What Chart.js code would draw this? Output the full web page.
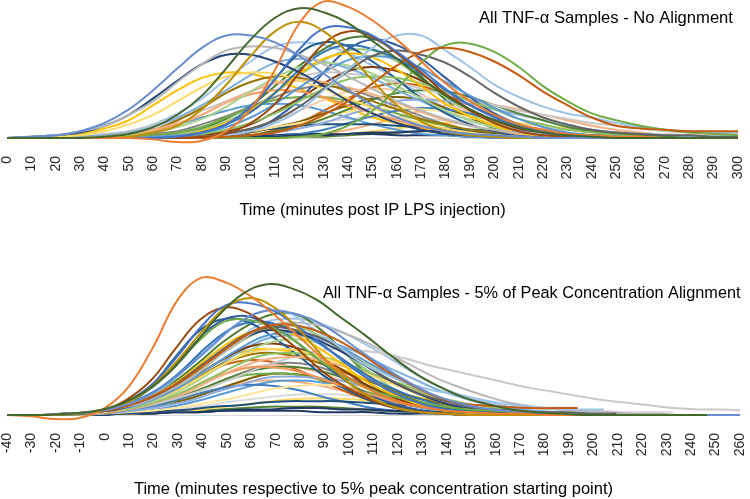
<!DOCTYPE html>
<html>
<head>
<meta charset="utf-8">
<script src="https://cdn.jsdelivr.net/npm/chart.js@4.4.1/dist/chart.umd.min.js"></script>
<style>
  html, body { margin: 0; padding: 0; background: #fff; }
  body { width: 750px; height: 499px; position: relative; overflow: hidden; }
  canvas { position: absolute; left: 0; }
  #topChart { top: 0; }
  #bottomChart { top: 250px; }
</style>
</head>
<body>
<canvas id="topChart" width="750" height="250"></canvas>
<canvas id="bottomChart" width="750" height="249"></canvas>
<script>
// sampling times (minutes post IP LPS injection)
const times = [0,10,20,30,40,50,60,70,80,90,100,110,120,130,140,150,160,170,180,190,200,210,220,230,240,250,260,270,280,290,300];

const topTicks = [0,10,20,30,40,50,60,70,80,90,100,110,120,130,140,150,160,170,180,190,200,210,220,230,240,250,260,270,280,290,300];
const bottomTicks = [-40,-30,-20,-10,0,10,20,30,40,50,60,70,80,90,100,110,120,130,140,150,160,170,180,190,200,210,220,230,240,250,260];

// one colour per sample (first ones are drawn on top)
const sampleColors = [
  "#43682B", "#ED7D31", "#698ED0", "#BF9000", "#4472C4", "#9E480E",
  "#C55A11", "#70AD47", "#9DC3E6", "#636363", "#B7B7B7", "#264478",
  "#2E75B6", "#5B9BD5", "#FFC000", "#FFD966", "#A9D18E", "#8CC168",
  "#F4B183", "#F1975A", "#335AA1", "#255E91", "#843C0C", "#997300",
  "#7CAFDD", "#C9C9C9", "#548235", "#8FAADC", "#FFE699", "#1F4E79",
  "#203864", "#3F7FBF", "#70AD47", "#F8CBAD", "#848484", "#7F6000",
  "#5B9BD5", "#9BC57D", "#D26012", "#FFC000", "#507E32", "#A6C4E8",
  "#D9D9D9", "#FFD966", "#1F3864", "#548235", "#F4B183"
];

// TNF-a concentration per sample (relative units), one value per entry of times
const samples = [
  [0,0,0,0,1,3,8,17,31,51,72,88,95,92,84,71,58,44,31,21,13,8,4,2,1,0,0,0,0,0,0],
  [0,0,0,0,0,0,-1,-3,-2,5,21,50,84,100,96,86,72,56,40,27,17,10,6,3,2,1,1,0,0,0,0],
  [0,1,2,5,11,21,35,51,66,75,75,70,60,47,35,24,15,9,5,3,2,1,0,0,0,0,0,0,0,0,0],
  [0,0,0,0,0,1,4,9,21,39,60,78,85,78,62,42,24,12,5,2,1,0,0,0,0,0,0,0,0,0,0],
  [0,0,0,0,0,0,0,1,4,10,23,43,65,80,81,75,63,50,36,24,15,8,4,2,1,0,0,0,0,0,0],
  [0,0,0,0,0,0,0,0,1,3,11,25,48,69,78,74,62,48,32,20,11,5,2,1,0,0,0,0,0,0,0],
  [0,0,0,0,0,0,0,0,0,1,2,4,9,17,27,40,53,63,66,63,56,46,34,24,15,9,7,6,5,5,5],
  [0,0,0,0,0,0,0,0,0,0,0,0,1,3,9,20,36,55,68,69,63,52,38,27,18,13,9,6,4,3,2],
  [0,0,0,0,0,0,0,0,1,2,5,11,20,35,50,66,75,75,64,52,39,30,23,18,15,11,8,6,5,4,4],
  [0,0,0,0,0,0,0,0,1,3,7,13,23,36,49,60,64,61,55,45,33,23,15,10,6,4,3,2,2,1,1],
  [0,1,2,5,9,17,27,41,54,64,67,66,61,54,45,36,27,20,14,9,6,4,3,2,1,1,0,0,0,0,0],
  [0,1,2,4,9,17,29,42,54,61,61,56,48,38,27,18,11,6,3,2,1,0,0,0,0,0,0,0,0,0,0],
  [0,0,0,0,0,0,0,1,4,10,19,33,50,63,68,65,58,47,35,24,16,10,5,3,2,1,0,0,0,0,0],
  [0,0,0,0,0,0,1,2,4,8,15,25,37,48,57,60,58,51,41,31,22,14,8,4,2,1,0,0,0,0,0],
  [0,0,0,0,0,0,1,2,5,11,20,33,47,58,62,59,50,38,25,16,9,4,2,1,0,0,0,0,0,0,0],
  [0,0,1,2,5,10,17,27,37,45,48,47,42,36,29,22,15,11,7,4,2,1,0,0,0,0,0,0,0,0,0],
  [0,0,0,0,1,2,4,8,14,23,34,44,52,55,53,47,38,29,20,13,8,4,2,1,0,0,0,0,0,0,0],
  [0,0,0,0,0,0,0,1,3,6,11,18,27,36,43,45,44,40,34,27,21,14,10,6,4,2,1,0,0,0,0],
  [0,0,0,0,1,3,6,11,17,26,34,40,42,41,37,32,26,19,13,9,6,3,2,1,0,0,0,0,0,0,0],
  [0,0,0,0,1,2,5,10,17,26,32,35,34,30,24,18,13,8,5,3,1,0,0,0,0,0,0,0,0,0,0],
  [0,0,0,0,0,0,0,0,1,2,5,14,28,48,65,72,68,58,44,30,18,10,5,2,1,0,0,0,0,0,0],
  [0,0,0,0,0,0,0,1,3,10,22,43,62,70,67,56,43,29,18,10,5,2,1,0,0,0,0,0,0,0,0],
  [0,0,0,0,0,0,0,1,2,5,10,19,29,40,49,52,49,42,32,21,13,7,4,2,1,0,0,0,0,0,0],
  [0,0,0,0,1,3,6,13,22,33,41,45,44,40,34,27,21,14,10,6,4,2,1,0,0,0,0,0,0,0,0],
  [0,0,0,1,2,4,8,15,24,35,46,55,58,56,51,44,35,27,19,13,8,5,3,2,1,0,0,0,0,0,0],
  [0,0,0,1,3,5,9,14,20,27,34,40,45,48,47,45,41,36,32,28,24,20,17,14,11,9,7,5,4,4,3],
  [0,0,0,0,0,0,0,0,0,1,2,5,9,14,21,28,33,35,34,30,24,18,13,8,5,3,2,1,0,0,0],
  [0,0,0,0,0,0,0,0,0,1,2,4,7,11,17,22,27,28,27,25,21,17,13,9,6,4,3,2,1,1,1],
  [0,0,0,0,0,0,0,1,2,3,5,8,11,15,19,21,22,21,19,15,11,8,5,3,2,1,0,0,0,0,0],
  [0,0,0,0,0,0,1,2,3,4,6,7,9,10,10,10,9,8,7,6,4,3,2,2,1,1,0,0,0,0,0],
  [0,0,0,0,0,0,0,0,0,0,1,1,2,2,3,4,4,5,5,4,4,3,3,2,2,1,1,1,1,0,0],
  [0,0,0,0,0,0,0,0,0,0,0,1,3,6,11,16,20,22,21,18,13,9,5,3,2,1,0,0,0,0,0],
  [0,0,0,0,0,1,2,4,8,15,22,28,30,30,27,23,18,13,9,5,3,2,1,0,0,0,0,0,0,0,0],
  [0,0,0,0,0,0,0,0,1,4,7,13,20,28,34,36,35,31,25,19,13,8,5,3,1,0,0,0,0,0,0],
  [0,0,0,0,0,1,3,5,10,16,23,30,36,38,36,30,23,16,10,5,3,1,0,0,0,0,0,0,0,0,0],
  [0,0,0,0,0,0,0,0,1,2,4,8,12,18,24,29,30,28,22,15,8,4,2,1,0,0,0,0,0,0,0],
  [0,0,0,1,2,3,6,10,15,20,24,25,24,20,15,10,6,3,2,1,0,0,0,0,0,0,0,0,0,0,0],
  [0,0,0,0,0,0,1,3,6,12,21,33,46,57,64,64,56,43,30,18,10,5,2,1,0,0,0,0,0,0,0],
  [0,0,0,0,0,0,0,0,0,1,2,6,11,20,29,37,40,38,32,24,16,10,6,3,1,0,0,0,0,0,0],
  [0,0,1,3,7,13,24,35,44,48,47,42,36,29,22,15,11,7,4,2,1,0,0,0,0,0,0,0,0,0,0],
  [0,0,0,0,0,0,1,3,7,14,24,38,53,65,73,73,62,45,28,15,7,3,1,0,0,0,0,0,0,0,0],
  [0,0,0,1,2,5,10,18,29,43,56,67,70,68,62,53,43,32,22,15,10,6,3,2,1,0,0,0,0,0,0],
  [0,0,0,0,0,0,0,1,2,3,5,7,10,12,14,15,15,14,13,11,10,8,7,6,5,4,3,3,2,2,2],
  [0,0,0,0,0,0,0,0,0,0,0,1,1,2,3,5,7,9,11,12,12,11,9,7,5,4,3,2,1,1,1],
  [0,0,0,0,0,0,0,0,1,1,2,2,3,3,3,3,2,2,2,1,1,1,1,0,0,0,0,0,0,0,0],
  [0,0,0,0,0,0,0,0,0,0,0,0,1,1,2,3,4,5,6,6,6,5,4,3,2,2,1,1,1,0,0],
  [0,0,0,0,0,0,0,0,0,0,0,0,1,3,6,10,15,20,24,25,24,21,17,13,9,6,4,2,1,1,1]
];

const FONT = "'Liberation Sans', Arial, sans-serif";
Chart.defaults.font.family = FONT;

// time at which a sample first reaches 5% of its own peak
function onsetTime(vals) {
  const level = Math.max(...vals) * 0.05;
  for (let i = 1; i < vals.length; i++) {
    if (vals[i] >= level) {
      const f = (level - vals[i - 1]) / (vals[i] - vals[i - 1]);
      return times[i - 1] + f * (times[i] - times[i - 1]);
    }
  }
  return 0;
}

function buildDatasets(aligned) {
  return samples.map((vals, k) => {
    const shift = aligned ? onsetTime(vals) : 0;
    return {
      data: vals.map((v, i) => ({ x: times[i] - shift, y: v })),
      borderColor: sampleColors[k],
      borderWidth: 2,
      pointRadius: 0,
      tension: 0.4,
      fill: false
    };
  });
}

// corner caption + zero line
const chartDecor = {
  id: "chartDecor",
  beforeDatasetsDraw(chart) {
    const { ctx, chartArea, scales } = chart;
    const y0 = scales.y.getPixelForValue(0);
    ctx.save();
    ctx.strokeStyle = "#D9D9D9";
    ctx.lineWidth = 1;
    ctx.beginPath();
    ctx.moveTo(chartArea.left, Math.round(y0) + 0.5);
    ctx.lineTo(chartArea.right, Math.round(y0) + 0.5);
    ctx.stroke();
    ctx.restore();
  },
  afterDraw(chart, args, opts) {
    const ctx = chart.ctx;
    ctx.save();
    ctx.font = opts.size + "px " + FONT;
    ctx.fillStyle = "#000";
    ctx.textAlign = "left";
    ctx.textBaseline = "alphabetic";
    ctx.fillText(opts.text, opts.x, opts.y);
    ctx.restore();
  }
};

function makeChart(id, aligned, xMin, xMax, ticks, axisTitle, caption, pad, titlePad) {
  return new Chart(document.getElementById(id), {
    type: "line",
    data: { datasets: buildDatasets(aligned) },
    plugins: [chartDecor],
    options: {
      responsive: false,
      animation: false,
      events: [],
      layout: { padding: pad },
      plugins: {
        legend: { display: false },
        tooltip: { enabled: false },
        chartDecor: caption
      },
      scales: {
        x: {
          type: "linear",
          min: xMin,
          max: xMax,
          grid: { display: false },
          border: { display: false },
          afterBuildTicks: (s) => { s.ticks = ticks.map((v) => ({ value: v })); },
          afterFit: (s) => { s.paddingLeft = 0; s.paddingRight = 0; },
          ticks: {
            autoSkip: false,
            maxRotation: 90,
            minRotation: 90,
            padding: 3,
            color: "#262626",
            font: { size: 14 }
          },
          title: {
            display: true,
            text: axisTitle,
            color: "#000",
            font: { size: 16.5 },
            padding: titlePad
          }
        },
        y: { display: false, min: -5, max: 101 }
      }
    }
  });
}

makeChart("topChart", false, 0, 300, topTicks,
  "Time (minutes post IP LPS injection)",
  { text: "All TNF-\u03B1 Samples - No Alignment", x: 479, y: 23, size: 16.6 },
  { left: 7, right: 12, top: 0, bottom: 0 },
  { top: 18, bottom: 30 });

makeChart("bottomChart", true, -40, 260, bottomTicks,
  "Time (minutes respective to 5% peak concentration starting point)",
  { text: "All TNF-\u03B1 Samples - 5% of Peak Concentration Alignment", x: 323, y: 48, size: 16.3 },
  { left: 7, right: 10, top: 26, bottom: 0 },
  { top: 20, bottom: 0 });
</script>
</body>
</html>
